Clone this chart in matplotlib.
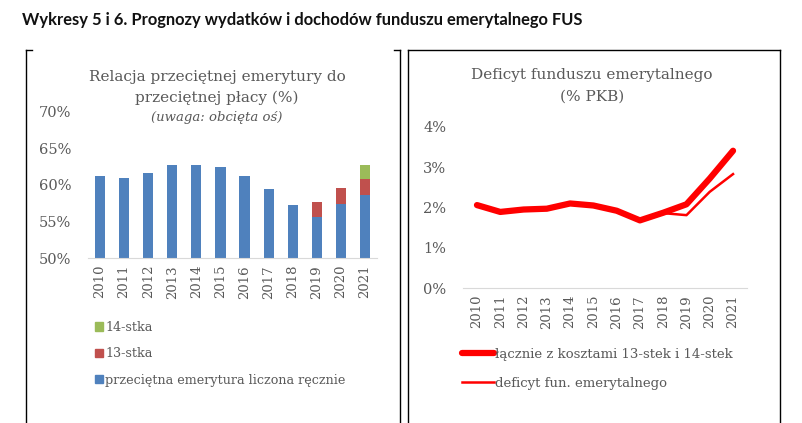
import matplotlib
matplotlib.use("Agg")
import matplotlib.pyplot as plt
import numpy as np
from matplotlib.lines import Line2D
from matplotlib.patches import Patch

# data
years = [str(y) for y in range(2010, 2022)]
base = [61.2, 60.9, 61.7, 62.7, 62.7, 62.5, 61.2, 59.4, 57.2, 55.6, 57.4, 58.6]
extra13 = [0, 0, 0, 0, 0, 0, 0, 0, 0, 2.1, 2.2, 2.2]
extra14 = [0, 0, 0, 0, 0, 0, 0, 0, 0, 0, 0, 2.0]
left_ticks = [50, 55, 60, 65, 70]

deficit_total = [2.06, 1.89, 1.95, 1.97, 2.10, 2.05, 1.92, 1.68, 1.87, 2.08, 2.72, 3.41]
deficit_base = [2.06, 1.89, 1.95, 1.97, 2.10, 2.05, 1.92, 1.68, 1.86, 1.81, 2.39, 2.83]
right_ticks = [0, 1, 2, 3, 4]

W, H = 803, 423
BLUE, RED, GREEN = "#4F81BD", "#C0504D", "#9BBB59"
GREY = "#595959"
SERIF = "DejaVu Serif"

fig = plt.figure(figsize=(W / 100, H / 100), dpi=100)


def fx(px):
    return px / W


def fy(py):
    return 1 - py / H


fig.text(fx(22), fy(20), "Wykresy 5 i 6. Prognozy wydatków i dochodów funduszu emerytalnego FUS",
         fontsize=11.9, fontweight="bold", family="Lato", va="center", ha="left", color="#111111")

# panel frames
frame = dict(color="black", lw=1.0, transform=fig.transFigure)
fig.add_artist(Line2D([fx(26), fx(26)], [fy(50), 0], **frame))
fig.add_artist(Line2D([fx(26), fx(32)], [fy(50), fy(50)], **frame))
fig.add_artist(Line2D([fx(400), fx(400)], [fy(50), 0], **frame))
fig.add_artist(Line2D([fx(394), fx(400)], [fy(50), fy(50)], **frame))
fig.add_artist(Line2D([fx(408), fx(408)], [fy(50), 0], **frame))
fig.add_artist(Line2D([fx(780), fx(780)], [fy(50), 0], **frame))
fig.add_artist(Line2D([fx(408), fx(780)], [fy(50), fy(50)], **frame))

# ---- left chart
ax1 = fig.add_axes([fx(88), fy(258), fx(377 - 88), (258 - 112) / H])
x = np.arange(len(years))
b1 = ax1.bar(x, np.array(base) - 50, 0.42, bottom=50, color=BLUE)
b2 = ax1.bar(x, extra13, 0.42, bottom=base, color=RED)
b3 = ax1.bar(x, extra14, 0.42, bottom=np.array(base) + np.array(extra13), color=GREEN)
ax1.set_ylim(50, 70)
ax1.set_xlim(-0.5, len(years) - 0.5)
ax1.set_yticks(left_ticks)
ax1.set_yticklabels([f"{v}%" for v in left_ticks])
ax1.set_xticks(x)
ax1.set_xticklabels(years, rotation=90)

fig.text(fx(217), fy(77), "Relacja przeciętnej emerytury do", ha="center", va="center",
         family=SERIF, fontsize=11, color=GREY)
fig.text(fx(217), fy(98), "przeciętnej płacy (%)", ha="center", va="center",
         family=SERIF, fontsize=11, color=GREY)
fig.text(fx(217), fy(117), "(uwaga: obcięta oś)", ha="center", va="center",
         family=SERIF, fontsize=9.5, style="italic", color=GREY)

handles = [Patch(color=GREEN), Patch(color=RED), Patch(color=BLUE)]
labels = ["14-stka", "13-stka", "przeciętna emerytura liczona ręcznie"]
fig.legend(handles, labels, loc="upper left", bbox_to_anchor=(fx(95), fy(321)),
           frameon=False, handlelength=0.6, handleheight=0.6, handletextpad=0.2,
           labelspacing=1.05, prop=dict(family=SERIF, size=9.2), labelcolor=GREY,
           borderaxespad=0, borderpad=0)

# ---- right chart
ax2 = fig.add_axes([fx(463), fy(288), fx(747 - 463), (288 - 127) / H])
l1, = ax2.plot(x, deficit_total, color="#FF0000", lw=4.5, solid_capstyle="round", zorder=3)
l2, = ax2.plot(x, deficit_base, color="#FF0000", lw=1.8, zorder=2)
ax2.set_ylim(0, 4)
ax2.set_xlim(-0.6, len(years) - 0.4)
ax2.set_yticks(right_ticks)
ax2.set_yticklabels([f"{v}%" for v in right_ticks])
ax2.set_xticks(x)
ax2.set_xticklabels(years, rotation=90)

fig.text(fx(592), fy(75), "Deficyt funduszu emerytalnego", ha="center", va="center",
         family=SERIF, fontsize=11, color=GREY)
fig.text(fx(592), fy(97), "(% PKB)", ha="center", va="center",
         family=SERIF, fontsize=11, color=GREY)

fig.legend([l1, l2], ["łącznie z kosztami 13-stek i 14-stek", "deficyt fun. emerytalnego"],
           loc="upper left", bbox_to_anchor=(fx(462), fy(348)), frameon=False,
           handlelength=2.4, handletextpad=0.1, labelspacing=1.2,
           prop=dict(family=SERIF, size=9.5), labelcolor=GREY, borderaxespad=0, borderpad=0)

for ax in (ax1, ax2):
    for s in ("top", "right", "left"):
        ax.spines[s].set_visible(False)
    ax.spines["bottom"].set_color("#D9D9D9")
    ax.tick_params(length=0, colors=GREY)
    ax.tick_params(axis="y", labelsize=10.5, pad=12)
    ax.tick_params(axis="x", labelsize=9.5, pad=5)
    for t in ax.get_xticklabels() + ax.get_yticklabels():
        t.set_family(SERIF)

fig.savefig("out.png", dpi=100)
